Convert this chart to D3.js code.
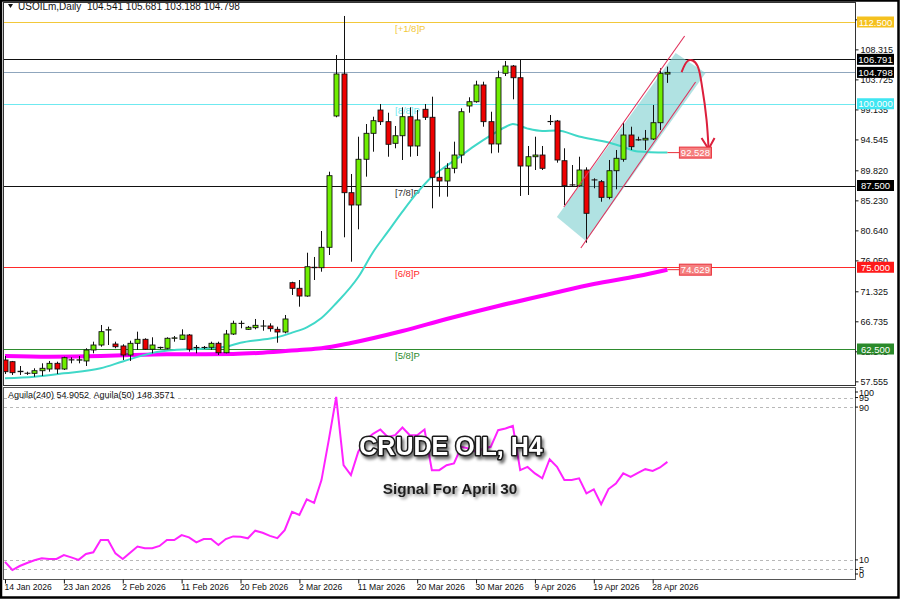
<!DOCTYPE html>
<html><head><meta charset="utf-8">
<script src="https://cdn.jsdelivr.net/npm/d3@7"></script>
<style>
html,body{margin:0;padding:0;background:#fff;}
svg{display:block;}
text{font-family:"Liberation Sans",Arial,sans-serif;}
</style></head><body>
<svg id="chart" width="900" height="599"></svg>
<script>
// ---------------- DATA ----------------
const opens  = [60.82,60.56,59.10,58.80,58.78,59.18,59.44,60.31,59.44,60.85,60.80,60.67,62.35,63.11,65.40,63.26,62.96,61.58,63.37,63.98,62.46,62.75,62.61,64.14,63.98,64.64,62.70,62.72,62.76,63.37,61.93,64.79,66.43,65.51,65.76,66.00,66.02,65.51,65.10,72.64,71.78,70.60,75.00,74.93,78.05,98.13,104.55,86.40,84.52,91.51,95.48,99.04,97.26,93.95,95.11,98.02,93.54,99.15,97.93,88.75,88.19,90.13,92.16,99.66,100.31,102.87,97.26,93.85,104.66,105.77,103.98,90.48,91.90,92.16,97.30,97.36,91.29,87.60,87.47,89.87,88.36,88.08,85.69,89.76,91.51,95.22,94.50,94.46,94.61,97.10,104.541];
const highs  = [61.43,60.67,59.90,59.03,59.55,60.31,60.67,60.56,61.32,61.23,61.43,62.61,63.62,66.17,65.91,63.62,63.22,63.77,65.15,64.14,64.29,62.85,64.29,64.49,65.51,64.79,63.11,62.96,63.62,63.62,65.41,66.83,66.83,66.02,67.09,66.93,66.43,65.91,67.70,72.79,73.05,77.22,76.57,80.54,89.61,107.45,113.42,89.26,94.96,96.90,98.02,99.96,98.63,96.60,99.46,99.46,99.04,99.96,101.08,92.67,90.90,94.20,99.30,100.99,103.52,103.37,98.78,105.05,106.54,105.92,106.79,93.54,94.96,93.54,98.28,97.52,93.19,90.63,91.90,90.28,88.60,88.34,91.40,92.93,97.10,96.49,94.96,95.99,99.81,105.42,105.681];
const lows   = [58.68,58.53,58.53,58.53,58.26,58.37,59.03,58.68,59.29,60.31,60.31,59.90,61.84,62.85,63.11,62.61,60.82,60.67,62.35,62.35,61.84,62.46,62.46,63.62,63.88,62.09,61.84,62.50,62.35,61.58,61.84,64.64,65.67,65.41,65.51,65.30,65.15,63.46,64.90,70.76,68.97,70.50,73.05,74.32,76.87,97.93,79.58,75.85,80.80,88.85,92.67,96.75,91.90,93.19,91.40,91.90,92.01,97.52,84.01,85.79,85.79,89.37,90.90,98.63,100.16,96.49,92.42,92.52,104.24,100.68,85.90,86.05,89.87,89.87,96.75,90.99,84.52,87.32,87.32,78.75,87.07,85.02,85.39,86.92,91.14,92.93,94.35,92.93,94.46,95.99,103.188];
const closes = [59.03,58.88,59.03,58.78,59.18,59.55,60.31,59.44,61.17,60.82,60.85,62.35,63.11,65.15,65.45,62.85,61.58,63.37,63.98,62.46,63.11,62.70,64.14,64.20,64.64,62.46,62.75,62.75,63.37,61.93,64.79,66.43,66.40,65.82,66.12,66.02,65.61,65.10,67.09,71.78,70.60,75.08,74.93,78.05,89.00,104.55,86.40,84.52,91.51,95.48,97.41,97.26,93.80,95.11,98.02,93.54,97.52,97.93,88.75,88.19,90.13,92.16,98.78,100.31,102.87,97.26,93.85,103.98,105.77,103.98,90.48,91.90,92.16,90.13,97.26,91.40,87.47,87.58,89.87,83.25,88.34,85.69,89.76,91.66,95.22,93.43,94.46,94.72,97.10,104.66,104.798];

// moving averages (bar index, price)
const maFastIdx = [0,4,8,13,16,20,23,26,30,32,35,37,39,41,43,45,48,50,52,54,56,58,60,62,64,66,68,69,71,73,75,78,82,84,86,90];
const maFastVal = [58.02,58.26,58.78,59.55,60.60,61.90,62.35,62.50,62.85,63.46,63.95,64.29,65.00,65.82,67.24,69.50,73.50,77.30,80.40,83.50,86.40,88.85,90.50,92.10,93.70,95.15,96.45,96.90,96.20,95.83,95.90,94.99,94.07,93.39,92.70,92.528];
const maSlowIdx = [0,6,13,17,22,26,31,35,40,43,47,54,60,67,74,80,86,90];
const maSlowVal = [61.43,61.32,61.43,61.58,61.69,61.69,61.74,61.93,62.35,62.61,63.42,65.25,67.09,69.08,70.91,72.44,73.66,74.629];

// oscillator (Aguila) per bar
const oscValues = [9.0,4.7,6.8,8.4,9.8,10.8,10.5,10.5,12.5,11.3,10.0,13.1,14.0,20.4,20.4,13.4,10.5,13.8,17.0,16.1,16.1,17.3,20.4,20.4,23.0,21.8,19.2,20.9,20.9,17.8,20.9,22.3,22.1,21.3,25.3,24.2,22.6,21.4,25.6,35.2,33.5,41.7,39.9,51.8,73.0,95.3,59.6,54.4,66.6,72.7,76.0,78.3,74.4,75.3,79.3,75.3,75.3,78.3,57.0,57.0,59.6,60.5,69.2,68.3,66.5,68.3,69.2,77.9,78.8,80.2,57.0,58.7,55.3,52.7,62.7,58.7,51.8,51.8,52.7,44.8,46.9,39.2,47.1,50.0,55.3,53.5,55.6,57.5,56.6,58.4,61.3];

const xTickIndex  = [0,8,16,24,32,40,48,56,64,72,80,88];
const xTickLabels = ["14 Jan 2026","23 Jan 2026","2 Feb 2026","11 Feb 2026","20 Feb 2026","2 Mar 2026","11 Mar 2026","20 Mar 2026","30 Mar 2026","9 Apr 2026","19 Apr 2026","28 Apr 2026"];
const priceTicks  = [112.905,108.315,103.725,99.135,94.545,89.820,85.230,80.640,76.050,71.325,66.735,62.145,57.555];
const oscTicks    = [100,95,90,10,5,0];
const oscGrid     = [95,90,10,5];

const levelValues = [112.5,106.791,104.798,100,87.5,75,62.5];
const levelNames  = ["[+1/8]P","","","[8/8]P","[7/8]P","[6/8]P","[5/8]P"];
const levelLine   = ["#f2c83a","#111111","#8fa6bd","#6fe9f0","#111111","#ff2a2a","#2e8b2e"];
const levelBox    = ["#f5c11e","#000000","#000000","#3fe6f2","#000000","#ff1a1a","#2a8a2a"];

const maLabelValues = [92.528,74.629];

// channel & arrow annotation (bar index, price)
const channelUpper = [[75.93,84.21],[92.34,110.36]];
const channelLower = [[78.24,77.94],[93.83,103.33]];
const channelBox   = [[74.98,82.68],[78.92,79.01],[95.19,104.70],[91.12,107.76]];
const arrowPts     = [[91.93,104.85],[92.75,106.54],[93.42,106.61],[94.10,105.77],[94.78,102.10],[95.32,97.52],[95.59,93.23]];

// ---------------- CHART ----------------
const svg = d3.select("#chart");
const L = 4, R = 855, mainTop = 2, mainBot = 385, oscTop = 388, oscBot = 579;
const step = 7.36;
const x  = d3.scaleLinear().domain([0, (R - 5) / step]).range([5, R]);
const y  = d3.scaleLinear().domain([62.5, 112.5]).range([349, 22]);
const yo = d3.scaleLinear().domain([0, 100]).range([579, 388]);

svg.append("rect").attr("width",900).attr("height",599).attr("fill","#fff");

const defs = svg.append("defs");
defs.append("clipPath").attr("id","cMain").append("rect")
  .attr("x",L).attr("y",mainTop).attr("width",R-L).attr("height",mainBot-mainTop);
defs.append("clipPath").attr("id","cOsc").append("rect")
  .attr("x",L).attr("y",oscTop).attr("width",R-L).attr("height",oscBot-oscTop);
const f1 = defs.append("filter").attr("id","sh1").attr("x","-10%").attr("y","-40%").attr("width","130%").attr("height","200%");
f1.append("feDropShadow").attr("dx",2).attr("dy",3).attr("stdDeviation",1.6).attr("flood-color","#000").attr("flood-opacity",0.55);
const f2 = defs.append("filter").attr("id","sh2").attr("x","-10%").attr("y","-40%").attr("width","130%").attr("height","200%");
f2.append("feDropShadow").attr("dx",2).attr("dy",2).attr("stdDeviation",1.4).attr("flood-color","#000").attr("flood-opacity",0.45);

const gMain = svg.append("g").attr("clip-path","url(#cMain)");

// level lines
levelValues.forEach((v,i)=>{
  gMain.append("line").attr("x1",L).attr("x2",R).attr("y1",Math.round(y(v))+0.5).attr("y2",Math.round(y(v))+0.5)
    .attr("stroke",levelLine[i]).attr("stroke-width",1);
  if (levelNames[i]) {
    gMain.append("text").attr("x",395).attr("y",Math.round(y(v))+10)
      .attr("font-size",9.5).attr("fill",levelLine[i]==="#111111"?"#333":levelLine[i]).text(levelNames[i]);
  }
});

// channel fill
gMain.append("path")
  .attr("d", d3.line().x(d=>x(d[0])).y(d=>y(d[1]))(channelBox) + "Z")
  .attr("fill","#7ccfcf").attr("fill-opacity",0.6);

// moving averages
const maLine = d3.line().x((d)=>x(d[0])).y(d=>y(d[1])).curve(d3.curveMonotoneX);
gMain.append("path").attr("d", maLine(maSlowIdx.map((d,i)=>[d,maSlowVal[i]])))
  .attr("fill","none").attr("stroke","#ff00ff").attr("stroke-width",4);
gMain.append("path").attr("d", maLine(maFastIdx.map((d,i)=>[d,maFastVal[i]])))
  .attr("fill","none").attr("stroke","#40d8c8").attr("stroke-width",2);

// candles
const bars = closes.map((c,i)=>({i, o:opens[i], h:highs[i], l:lows[i], c}));
const cg = gMain.append("g");
cg.selectAll("line.w").data(bars).enter().append("line")
  .attr("x1",d=>Math.round(x(d.i))+0.5).attr("x2",d=>Math.round(x(d.i))+0.5)
  .attr("y1",d=>y(d.h)).attr("y2",d=>y(d.l)).attr("stroke","#111").attr("stroke-width",1);
cg.selectAll("rect.b").data(bars).enter().append("rect")
  .attr("x",d=>Math.round(x(d.i))-2)
  .attr("y",d=>y(Math.max(d.o,d.c)))
  .attr("width",5)
  .attr("height",d=>Math.max(0.01, y(Math.min(d.o,d.c))-y(Math.max(d.o,d.c))))
  .attr("fill",d=>d.c>=d.o?"#6fee00":"#ee0000")
  .attr("stroke","#111").attr("stroke-width",0.9);

// channel lines
[channelUpper, channelLower].forEach(seg=>{
  gMain.append("line").attr("x1",x(seg[0][0])).attr("y1",y(seg[0][1]))
    .attr("x2",x(seg[1][0])).attr("y2",y(seg[1][1]))
    .attr("stroke","#e0305a").attr("stroke-width",1.1);
});

// arrow
const ap = arrowPts.map(d=>[x(d[0]),y(d[1])]);
gMain.append("path").attr("d", d3.line().curve(d3.curveCatmullRom)(ap))
  .attr("fill","none").attr("stroke","#dc1f3c").attr("stroke-width",2);
const tip = ap[ap.length-1];
gMain.append("path").attr("d",`M${tip[0]-7},${tip[1]-10}L${tip[0]},${tip[1]+1}L${tip[0]+6},${tip[1]-10}`)
  .attr("fill","none").attr("stroke","#dc1f3c").attr("stroke-width",2);

// MA end labels
maLabelValues.forEach(v=>{
  const yy = y(v);
  const xe = x(closes.length-1);
  gMain.append("line").attr("x1",xe).attr("x2",xe+12).attr("y1",yy).attr("y2",yy).attr("stroke","#e8303a").attr("stroke-width",1);
  gMain.append("rect").attr("x",xe+12).attr("y",yy-5.5).attr("width",32).attr("height",11)
    .attr("fill","#f58080").attr("stroke","#e8303a").attr("stroke-width",1);
  gMain.append("text").attr("x",xe+28).attr("y",yy+3.5).attr("text-anchor","middle")
    .attr("font-size",9.5).attr("fill","#fff").text(d3.format(".3f")(v));
});

// header
svg.append("path").attr("d","M8,4L13,4L10.5,8Z").attr("fill","#111");
svg.append("text").attr("x",18).attr("y",9.5).attr("font-size",10).attr("fill","#111")
  .style("white-space","pre")
  .text("USOILm,Daily  104.541 105.681 103.188 104.798");

// ---------------- OSCILLATOR ----------------
const gOsc = svg.append("g").attr("clip-path","url(#cOsc)");
oscGrid.forEach(v=>{
  gOsc.append("line").attr("x1",L).attr("x2",R).attr("y1",Math.round(yo(v))+0.5).attr("y2",Math.round(yo(v))+0.5)
    .attr("stroke","#b8b8b8").attr("stroke-dasharray","3,3").attr("stroke-width",1);
});
gOsc.append("path").attr("d", d3.line().x((d,i)=>x(i)).y(d=>yo(d))(oscValues))
  .attr("fill","none").attr("stroke","#ff22ff").attr("stroke-width",2);
svg.append("text").attr("x",8).attr("y",398).attr("font-size",9).attr("fill","#111")
  .style("white-space","pre")
  .text("Aguila(240) 54.9052  Aguila(50) 148.3571");

// titles
svg.append("text").attr("x",451).attr("y",455).attr("text-anchor","middle")
  .attr("font-size",25).attr("font-weight","bold").attr("fill","#fff")
  .attr("stroke","#1a1a1a").attr("stroke-width",3).attr("paint-order","stroke")
  .attr("stroke-linejoin","round").attr("filter","url(#sh1)").text("CRUDE OIL, H4");
svg.append("text").attr("x",450).attr("y",494).attr("text-anchor","middle")
  .attr("font-size",15.3).attr("font-weight","bold").attr("fill","#1e1e1e")
  .attr("filter","url(#sh2)").text("Signal For April 30");

// ---------------- FRAMES & AXES ----------------
svg.append("rect").attr("x",R+0.5).attr("y",0).attr("width",900-R).attr("height",599).attr("fill","#fff");
svg.append("rect").attr("x",L-0.5).attr("y",mainTop+0.5).attr("width",R-L+1).attr("height",mainBot-mainTop)
  .attr("fill","none").attr("stroke","#333").attr("stroke-width",1);
svg.append("rect").attr("x",L-0.5).attr("y",oscTop-0.5).attr("width",R-L+1).attr("height",oscBot-oscTop+1)
  .attr("fill","none").attr("stroke","#555").attr("stroke-width",1);

// right price axis
const ay = svg.append("g").attr("transform",`translate(${R+0.5},0)`)
  .call(d3.axisRight(y).tickValues(priceTicks).tickFormat(d3.format(".3f")).tickSize(3).tickPadding(2));
ay.select(".domain").remove();
ay.selectAll("text").attr("font-size",9).attr("font-family","Liberation Sans, Arial, sans-serif").attr("fill","#111");
ay.selectAll("line").attr("stroke","#111");

// level boxes on axis
levelValues.forEach((v,i)=>{
  const yy = y(v);
  svg.append("rect").attr("x",R+2).attr("y",yy-5.5).attr("width",37).attr("height",11).attr("fill",levelBox[i]);
  svg.append("text").attr("x",R+20.5).attr("y",yy+3.5).attr("text-anchor","middle")
    .attr("font-size",9.5).attr("fill","#fff").text(d3.format(".3f")(v));
});

// oscillator axis labels
oscTicks.forEach(v=>{
  const yy = Math.min(Math.max(yo(v), 392), 574);
  svg.append("line").attr("x1",R).attr("x2",R+3).attr("y1",yy).attr("y2",yy).attr("stroke","#111");
  svg.append("text").attr("x",R+4).attr("y",yy+3.5).attr("font-size",9).attr("fill","#111").text(v);
});

// bottom time axis
const ax = svg.append("g").attr("transform",`translate(0,${oscBot+0.5})`)
  .call(d3.axisBottom(x).tickValues(xTickIndex).tickFormat((d,i)=>xTickLabels[i]).tickSize(4).tickPadding(2));
ax.select(".domain").remove();
ax.selectAll("line").attr("stroke","#111");
ax.selectAll("text").attr("font-size",8.6).attr("font-family","Liberation Sans, Arial, sans-serif")
  .attr("fill","#111").attr("text-anchor","start").attr("dx",-1).attr("dy","0.55em");

// outer frame
svg.append("rect").attr("x",1).attr("y",0.5).attr("width",897.5).attr("height",597)
  .attr("fill","none").attr("stroke","#000").attr("stroke-width",2.5);
</script>
</body></html>
